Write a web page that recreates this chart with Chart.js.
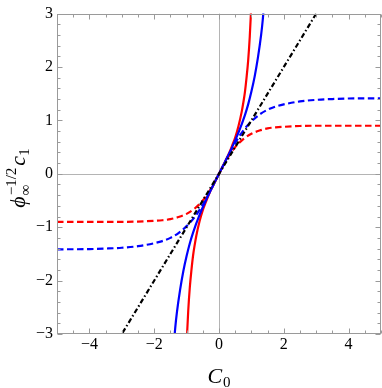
<!DOCTYPE html>
<html>
<head>
<meta charset="utf-8">
<script src="https://cdn.jsdelivr.net/npm/chart.js@4.4.1/dist/chart.umd.min.js"></script>
<style>
  html, body { margin: 0; padding: 0; background: #fff; }
  #wrap { width: 382px; height: 388px; }
</style>
</head>
<body>
<div id="wrap"><canvas id="myChart"></canvas></div>
<script>
"use strict";

// tick labels
const xTicks = [-4, -2, 0, 2, 4];
const yTicks = [-3, -2, -1, 0, 1, 2, 3];

// solid red
const redSolidX = [-1.01, -0.98, -0.95, -0.9, -0.85, -0.8, -0.75, -0.7, -0.6, -0.5, -0.4, -0.3, -0.2, -0.1, 0,
  0.1, 0.2, 0.3, 0.4, 0.5, 0.6, 0.7, 0.75, 0.8, 0.85, 0.9, 0.95, 0.98, 1.01];
const redSolidY = [-3.38, -2.94, -2.57, -2.12, -1.8, -1.53, -1.33, -1.16, -0.89, -0.68, -0.52, -0.37, -0.24, -0.12, 0,
  0.12, 0.24, 0.37, 0.52, 0.68, 0.89, 1.16, 1.33, 1.53, 1.8, 2.12, 2.57, 2.94, 3.38];

// solid blue
const blueSolidX = [-1.4, -1.35, -1.3, -1.2, -1.1, -1.0, -0.9, -0.8, -0.6, -0.4, -0.2, 0,
  0.2, 0.4, 0.6, 0.8, 0.9, 1.0, 1.1, 1.2, 1.3, 1.35, 1.4];
const blueSolidY = [-3.25, -2.88, -2.6, -2.17, -1.82, -1.54, -1.3, -1.1, -0.77, -0.49, -0.24, 0,
  0.24, 0.49, 0.77, 1.1, 1.3, 1.54, 1.82, 2.17, 2.6, 2.88, 3.25];

// dashed curves share x values
const dashX = [-5, -4, -3.5, -3, -2.5, -2, -1.75, -1.5, -1.25, -1, -0.75, -0.5, -0.25, 0,
  0.25, 0.5, 0.75, 1, 1.25, 1.5, 1.75, 2, 2.5, 3, 3.5, 4, 5];
const redDashY = [-0.9, -0.9, -0.9, -0.9, -0.895, -0.88, -0.87, -0.85, -0.81, -0.75, -0.65, -0.5, -0.28, 0,
  0.28, 0.5, 0.65, 0.75, 0.81, 0.85, 0.87, 0.88, 0.895, 0.9, 0.9, 0.9, 0.9];
const blueDashY = [-1.414, -1.41, -1.4, -1.385, -1.355, -1.3, -1.26, -1.2, -1.11, -0.98, -0.81, -0.58, -0.3, 0,
  0.3, 0.58, 0.81, 0.98, 1.11, 1.2, 1.26, 1.3, 1.355, 1.385, 1.4, 1.41, 1.414];

// dash-dot line
const blackX = [-5, 5];
const blackY = [-5, 5];

const pts = (xs, ys) => xs.map((v, i) => ({ x: v, y: ys[i] }));
const minus = (v) => (v < 0 ? "\u2212" + Math.abs(v) : String(v));
const serif = '"Liberation Serif", "DejaVu Serif", serif';

const framePlugin = {
  id: "framePlugin",
  beforeDatasetsDraw(chart) {
    const { ctx, chartArea: a, scales: { x, y } } = chart;
    ctx.save();
    ctx.strokeStyle = "#b4b4b4";
    ctx.lineWidth = 1;
    ctx.beginPath();
    const x0 = Math.round(x.getPixelForValue(0)) + 0.5;
    ctx.moveTo(x0, a.top);
    ctx.lineTo(x0, a.bottom);
    const y0 = Math.round(y.getPixelForValue(0)) + 0.5;
    ctx.moveTo(a.left, y0);
    ctx.lineTo(a.right, y0);
    ctx.stroke();
    ctx.restore();
  },
  afterDraw(chart) {
    const { ctx, chartArea: a, scales: { x, y } } = chart;
    ctx.save();
    ctx.strokeStyle = "#9a9a9a";
    ctx.lineWidth = 1;
    const L = Math.round(a.left) + 0.5, R = Math.round(a.right) - 0.5;
    const T = Math.round(a.top) + 0.5, B = Math.round(a.bottom) - 0.5;
    ctx.strokeRect(L, T, R - L, B - T);
    ctx.beginPath();
    for (let i = -10; i <= 10; i++) {
      const v = i / 2;
      const len = xTicks.includes(v) ? 5 : 3;
      const px = Math.round(x.getPixelForValue(v)) + 0.5;
      ctx.moveTo(px, B); ctx.lineTo(px, B - len);
      ctx.moveTo(px, T); ctx.lineTo(px, T + len);
    }
    for (let i = -15; i <= 15; i++) {
      const v = i / 5;
      const len = i % 5 === 0 ? 5 : 3;
      const py = Math.round(y.getPixelForValue(v)) + 0.5;
      ctx.moveTo(L, py); ctx.lineTo(L + len, py);
      ctx.moveTo(R, py); ctx.lineTo(R - len, py);
    }
    ctx.stroke();

    // axis titles
    ctx.fillStyle = "#000";
    ctx.textBaseline = "alphabetic";
    ctx.textAlign = "left";
    const big = "italic 22px " + serif;
    const small = "15px " + serif;

    // C_0
    ctx.font = big;
    const wC = ctx.measureText("C").width;
    ctx.font = small;
    const w0 = ctx.measureText("0").width;
    const cx = (a.left + a.right) / 2;
    let sx = cx - (wC + w0 + 1) / 2;
    ctx.font = big;
    ctx.fillText("C", sx, 383);
    ctx.font = small;
    ctx.fillText("0", sx + wC + 1, 387);

    // phi_inf^(-1/2) c_1
    ctx.translate(25, 178);
    ctx.rotate(-Math.PI / 2);
    ctx.font = big;
    const wPhi = ctx.measureText("\u03D5").width;
    const wc = ctx.measureText("c").width;
    ctx.font = small;
    const wSup = ctx.measureText("\u22121/2").width;
    const wInf = ctx.measureText("\u221E").width;
    const wScr = Math.max(wSup, wInf);
    const w1 = ctx.measureText("1").width;
    const total = wPhi + 1 + wScr + 2 + wc + w1;
    let tx = -total / 2;
    ctx.font = big;
    ctx.fillText("\u03D5", tx, 0);
    tx += wPhi + 1;
    ctx.font = small;
    ctx.fillText("\u22121/2", tx, -9);
    ctx.fillText("\u221E", tx, 5);
    tx += wScr + 2;
    ctx.font = big;
    ctx.fillText("c", tx, 0);
    tx += wc;
    ctx.font = small;
    ctx.fillText("1", tx, 4);
    ctx.restore();
  },
};

const ctx = document.getElementById("myChart");

new Chart(ctx, {
  type: "scatter",
  data: {
    datasets: [
      {
        data: pts(blackX, blackY),
        borderColor: "#000",
        borderWidth: 2.2,
        borderDash: [5, 2.5, 1.5, 2.5],
        tension: 0,
      },
      {
        data: pts(blueSolidX, blueSolidY),
        borderColor: "#0000ff",
        borderWidth: 2.2,
        cubicInterpolationMode: "monotone",
      },
      {
        data: pts(redSolidX, redSolidY),
        borderColor: "#ff0000",
        borderWidth: 2.2,
        cubicInterpolationMode: "monotone",
      },
      {
        data: pts(dashX, blueDashY),
        borderColor: "#0000ff",
        borderWidth: 2.2,
        borderDash: [6.5, 3.5],
        cubicInterpolationMode: "monotone",
      },
      {
        data: pts(dashX, redDashY),
        borderColor: "#ff0000",
        borderWidth: 2.2,
        borderDash: [6.5, 3.5],
        cubicInterpolationMode: "monotone",
      },
    ],
  },
  options: {
    responsive: true,
    maintainAspectRatio: false,
    animation: false,
    clip: 0,
    showLine: true,
    pointRadius: 0,
    layout: { padding: { top: 10, right: 1, left: 0, bottom: 0 } },
    elements: { point: { radius: 0, hoverRadius: 0 } },
    plugins: {
      legend: { display: false },
      tooltip: { enabled: false },
    },
    scales: {
      x: {
        type: "linear",
        min: -5,
        max: 5,
        afterBuildTicks: (axis) => {
          axis.ticks = xTicks.map((v) => ({ value: v }));
        },
        afterFit: (scale) => {
          scale.height = 54;
        },
        border: { display: false },
        grid: { display: false, drawTicks: false },
        ticks: {
          padding: 1,
          color: "#000",
          font: { family: serif, size: 16 },
          callback: (v) => minus(v),
          maxRotation: 0,
        },
      },
      y: {
        type: "linear",
        min: -3,
        max: 3,
        afterBuildTicks: (axis) => {
          axis.ticks = yTicks.map((v) => ({ value: v }));
        },
        afterFit: (scale) => {
          scale.width = 57;
        },
        border: { display: false },
        grid: { display: false, drawTicks: false },
        ticks: {
          padding: 4,
          color: "#000",
          font: { family: serif, size: 16 },
          callback: (v) => minus(v),
        },
      },
    },
  },
  plugins: [framePlugin],
});
</script>
</body>
</html>
